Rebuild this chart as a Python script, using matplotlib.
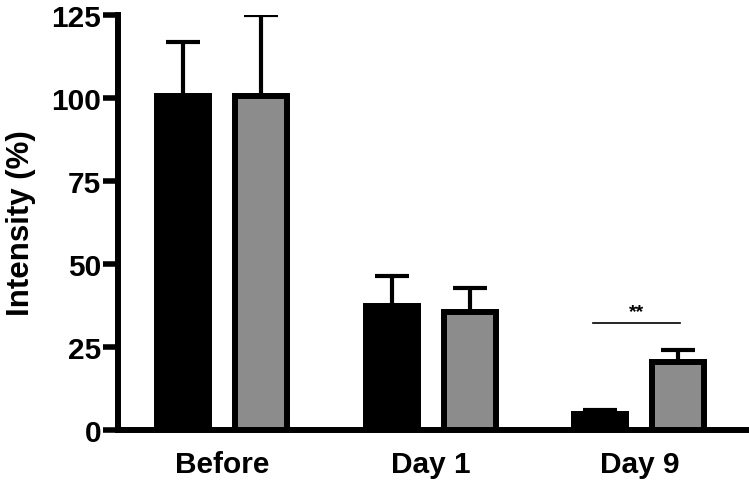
import numpy as np
import matplotlib
matplotlib.use('Agg')
import matplotlib.pyplot as plt

plt.rcParams['font.family'] = ['Liberation Sans', 'DejaVu Sans']

groups = ['Before', 'Day 1', 'Day 9']
black_means = [100.5, 37.5, 5.0]
black_err = [16.5, 8.8, 1.0]
gray_means = [100.5, 35.5, 20.5]
gray_err = [24.5, 7.3, 3.5]
sig_label = '**'
sig_y = 32.2


def draw_bars(ax: plt.Axes):
    x = np.arange(len(groups))
    off = 0.187
    w = 0.25
    err_kw = dict(ecolor='black', elinewidth=3, capsize=12, capthick=3)
    ax.bar(x - off, black_means, w, color='black', edgecolor='black',
           linewidth=4.3, zorder=3)
    ax.errorbar(x - off, black_means,
                yerr=[np.zeros(len(groups)), black_err],
                fmt='none', zorder=2, **err_kw)
    ax.bar(x + off, gray_means, w, color='#8c8c8c', edgecolor='black',
           linewidth=4.3, zorder=3)
    ax.errorbar(x + off, gray_means,
                yerr=[np.zeros(len(groups)), gray_err],
                fmt='none', zorder=2, **err_kw)

    # significance bar over Day 9
    ax.plot([2 - 0.223, 2 + 0.194], [sig_y, sig_y], color='black',
            linewidth=1.2, zorder=4)
    ax.text(2 - 0.015, sig_y + 1.0, sig_label, ha='center', va='bottom',
            fontsize=14, fontweight='bold')


def setup_axes(ax: plt.Axes):
    ax.set_xlim(-0.5, 2.51)
    ax.set_ylim(0, 125)
    ax.set_yticks([0, 25, 50, 75, 100, 125])
    ax.set_xticks(range(len(groups)))
    ax.set_xticklabels(groups)
    for s in ['top', 'right']:
        ax.spines[s].set_visible(False)
    for s in ['left', 'bottom']:
        ax.spines[s].set_linewidth(4.3)
    ax.spines['left'].set_bounds(0, 125)
    ax.tick_params(axis='y', length=11, width=4, labelsize=21.5, pad=1)
    ax.tick_params(axis='x', length=0, labelsize=21.5, pad=14)
    for lbl in ax.get_xticklabels() + ax.get_yticklabels():
        lbl.set_fontweight('bold')
    ax.set_ylabel('Intensity (%)', fontsize=22.5, fontweight='bold', labelpad=11)


fig = plt.figure(figsize=(7.49, 4.85), dpi=100)
ax = fig.add_axes([0.1575, 0.111, 0.838, 0.856])
draw_bars(ax)
setup_axes(ax)
fig.savefig('out.png', dpi=100)
